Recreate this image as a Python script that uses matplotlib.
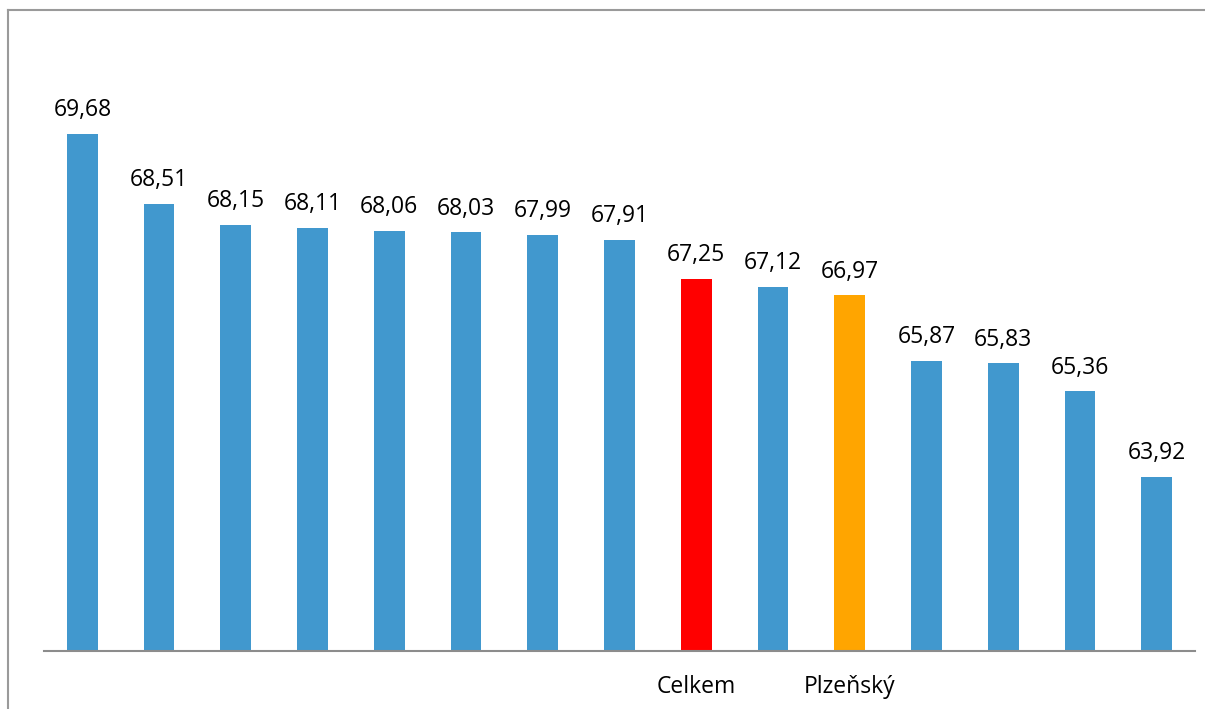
import matplotlib
matplotlib.use("Agg")
import matplotlib.pyplot as plt
from matplotlib.lines import Line2D

categories = ["", "", "", "", "", "", "", "", "Celkem", "", "Plzeňský", "", "", "", ""]
values = [69.68, 68.51, 68.15, 68.11, 68.06, 68.03, 67.99, 67.91, 67.25, 67.12, 66.97, 65.87, 65.83, 65.36, 63.92]
colors = ["#4198CE"] * 15
colors[8] = "#FF0000"
colors[10] = "#FFA500"

plt.rcParams['font.family'] = ['Open Sans', 'DejaVu Sans']

W, H = 1205, 709
fig = plt.figure(figsize=(W / 100, H / 100), dpi=100)
ax = fig.add_axes([44 / W, 58 / H, (1195 - 44) / W, (651 - 30) / H])

x = list(range(len(values)))
bars = ax.bar(x, values, width=0.4, color=colors, bottom=0)
ax.set_ylim(61, 61 + 621 / 59.55)
ax.set_xlim(-0.5, len(values) - 0.5)

for xi, v in zip(x, values):
    ax.annotate(f"{v:.2f}".replace(".", ","), (xi, v), xytext=(0, 8.5), textcoords="offset points",
                ha="center", va="bottom", fontsize=16.5, color="#000000")

ax.set_xticks(x)
ax.set_xticklabels(categories, fontsize=16.5)
ax.tick_params(axis="x", length=0, pad=17)
ax.set_yticks([])
for s in ["top", "right", "left"]:
    ax.spines[s].set_visible(False)
ax.spines["bottom"].set_color("#8C8C8C")
ax.spines["bottom"].set_linewidth(1.5)

# outer chart border (top and left)
fig.add_artist(Line2D([8 / W, 1.0], [1 - 9.5 / H, 1 - 9.5 / H], transform=fig.transFigure, color="#9A9A9A", lw=1.5))
fig.add_artist(Line2D([8 / W, 8 / W], [0, 1 - 9.5 / H], transform=fig.transFigure, color="#9A9A9A", lw=1.5))

fig.savefig("out.png", dpi=100)
